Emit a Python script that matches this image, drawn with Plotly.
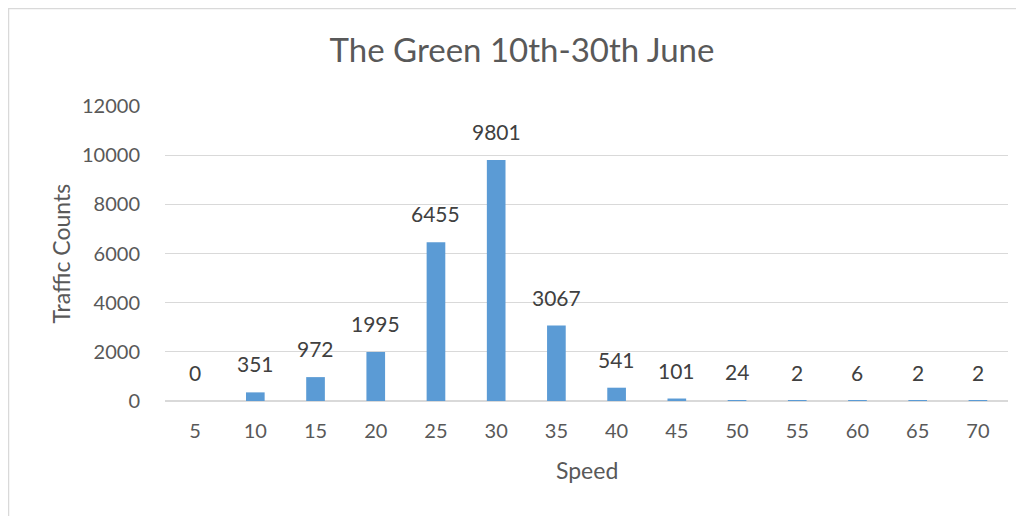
import plotly.graph_objects as go

speeds = ["5", "10", "15", "20", "25", "30", "35", "40", "45", "50", "55", "60", "65", "70"]
counts = [0, 351, 972, 1995, 6455, 9801, 3067, 541, 101, 24, 2, 6, 2, 2]
y_ticks = [0, 2000, 4000, 6000, 8000, 10000, 12000]

# page body has an 8px margin, so the figure is sized to fit the window
W, H = 1016, 508
L, R, T, B = 157, 16, 98, 115
pw = W - L - R
ph = H - T - B

font = "Lato, Open Sans, sans-serif"

fig = go.Figure(go.Bar(
    x=speeds, y=counts,
    marker=dict(color="#5B9BD5", line=dict(width=0)),
    cliponaxis=False,
    width=0.31,
))

for i, c in enumerate(counts):
    fig.add_annotation(x=i, y=c, xref="x", yref="y", text=str(c), showarrow=False,
                       yanchor="bottom", yshift=14,
                       font=dict(size=21, color="#404040", family=font))

fig.update_layout(
    width=W, height=H,
    margin=dict(l=L, r=R, t=T, b=B, autoexpand=False),
    paper_bgcolor="white", plot_bgcolor="white",
    font=dict(family=font, color="#595959"),
    title=dict(text="The Green 10th-30th June", x=(522 - 8) / W, xanchor="center",
               y=1 - (50 - 8) / H, yanchor="middle", font=dict(size=33, color="#595959")),
    showlegend=False,
    xaxis=dict(type="category", range=[-0.5, len(speeds) - 0.5], showgrid=False,
               showline=False, ticks="", automargin=False,
               tickfont=dict(size=20, color="#595959"), ticklabelstandoff=16),
    yaxis=dict(range=[0, 12000], tickvals=y_ticks, tickformat="d", automargin=False,
               gridcolor="#D9D9D9", gridwidth=1.3,
               zeroline=True, zerolinecolor="#D9D9D9", zerolinewidth=1.5,
               tickfont=dict(size=20, color="#595959"), ticks="", ticklabelstandoff=24),
)

fig.add_annotation(xref="paper", yref="paper", x=0.5, y=-69 / ph, text="Speed",
                   showarrow=False, xanchor="center", yanchor="middle",
                   font=dict(size=23, color="#595959", family=font))
fig.add_annotation(xref="paper", yref="paper", x=(52 - L) / pw, y=0.5,
                   text="Traffic Counts", textangle=-90, showarrow=False,
                   xanchor="center", yanchor="middle",
                   font=dict(size=23, color="#595959", family=font))

# chart border
fig.add_shape(type="rect", xref="paper", yref="paper",
              x0=(0.5 - L) / pw, x1=(W + 20 - L) / pw,
              y0=-(B + 20) / ph, y1=1 + (T - 0.5) / ph,
              line=dict(color="#D9D9D9", width=1.5), fillcolor="rgba(0,0,0,0)", layer="below")

fig.write_html("out.html")
